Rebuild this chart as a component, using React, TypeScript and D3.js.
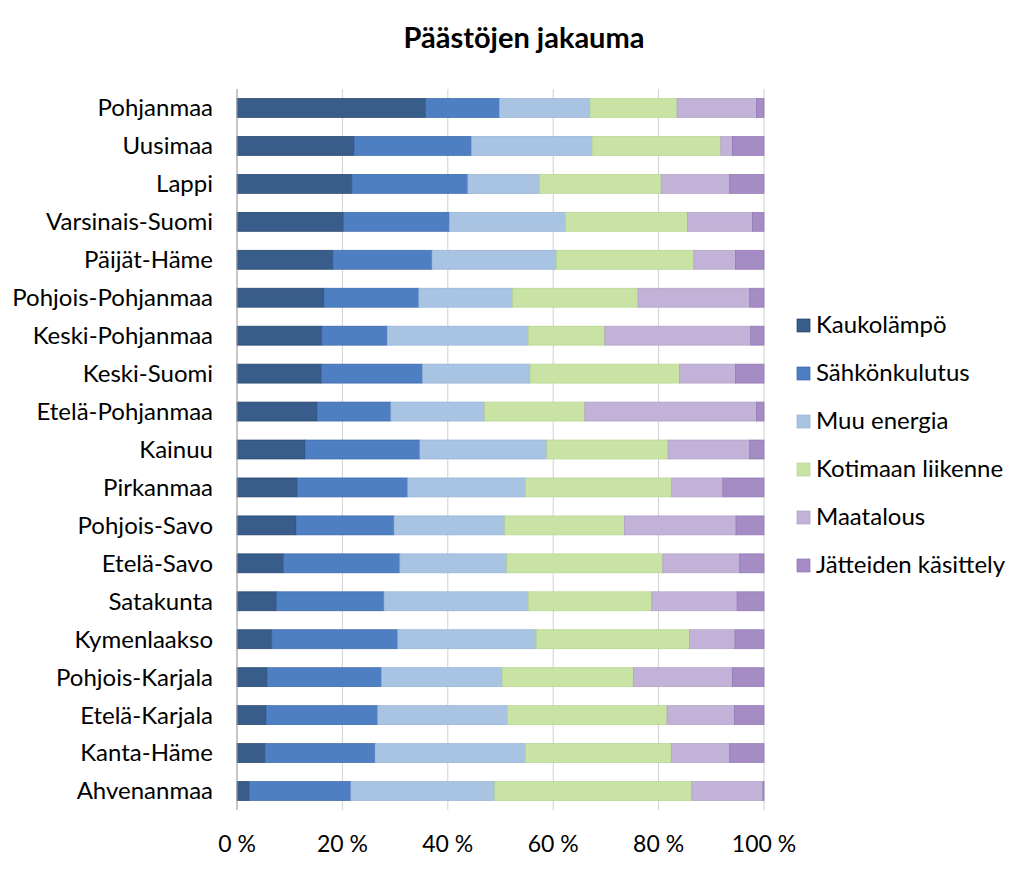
import React, { useEffect, useRef } from 'react';
import * as d3 from 'd3';

const regions = [
  'Pohjanmaa', 'Uusimaa', 'Lappi', 'Varsinais-Suomi', 'Päijät-Häme', 'Pohjois-Pohjanmaa',
  'Keski-Pohjanmaa', 'Keski-Suomi', 'Etelä-Pohjanmaa', 'Kainuu', 'Pirkanmaa', 'Pohjois-Savo',
  'Etelä-Savo', 'Satakunta', 'Kymenlaakso', 'Pohjois-Karjala', 'Etelä-Karjala', 'Kanta-Häme', 'Ahvenanmaa',
];

const seriesNames = ['Kaukolämpö', 'Sähkönkulutus', 'Muu energia', 'Kotimaan liikenne', 'Maatalous', 'Jätteiden käsittely'];

// shares (%) per region, in the order of `regions`
const kaukolampo = [35.8, 22.2, 21.8, 20.2, 18.2, 16.5, 16.1, 16.0, 15.2, 12.9, 11.4, 11.2, 8.8, 7.5, 6.6, 5.7, 5.5, 5.3, 2.3];
const sahkonkulutus = [14.0, 22.3, 22.0, 20.1, 18.8, 18.0, 12.4, 19.2, 14.0, 21.8, 21.0, 18.6, 22.1, 20.4, 23.9, 21.7, 21.2, 20.9, 19.3];
const muuEnergia = [17.2, 22.9, 13.6, 22.0, 23.6, 17.8, 26.8, 20.4, 17.8, 24.1, 22.3, 21.0, 20.3, 27.4, 26.3, 22.9, 24.6, 28.5, 27.3];
const liikenne = [16.5, 24.4, 23.1, 23.2, 26.1, 23.8, 14.5, 28.4, 19.0, 23.0, 27.8, 22.7, 29.6, 23.4, 29.1, 24.9, 30.3, 27.7, 37.4];
const maatalous = [15.1, 2.2, 13.0, 12.3, 7.9, 21.2, 27.7, 10.6, 32.6, 15.5, 9.7, 21.2, 14.6, 16.2, 8.6, 18.8, 12.8, 11.1, 13.5];
const jatteet = [1.4, 6.0, 6.5, 2.2, 5.4, 2.7, 2.5, 5.4, 1.4, 2.7, 7.8, 5.3, 4.6, 5.1, 5.5, 6.0, 5.6, 6.5, 0.2];

const xTicks = [0, 20, 40, 60, 80, 100];

const colors = ['#385d8a', '#4f7fc3', '#a9c4e2', '#c9e3a5', '#c3b2d8', '#a68cc5'];
const strokes = ['#23416b', '#3a66a8', '#93b1d6', '#b5d48f', '#b09fc8', '#8f76b3'];

function App() {
  const svgRef = useRef<SVGSVGElement>(null);
  const width = 1023;
  const height = 877;

  useEffect(() => {
    if (!svgRef.current) return;
    const svg = d3.select(svgRef.current);
    svg.selectAll('*').remove();

    const font = 'Lato, "Open Sans", sans-serif';
    const margin = { top: 89, left: 237, right: 259, bottom: 67 };
    const innerW = width - margin.left - margin.right;
    const innerH = height - margin.top - margin.bottom;

    const series = [kaukolampo, sahkonkulutus, muuEnergia, liikenne, maatalous, jatteet];
    const rows = regions.map((r, i) => {
      const row: any = { region: r };
      seriesNames.forEach((s, j) => { row[s] = series[j][i]; });
      return row;
    });
    const stacked = d3.stack<any>().keys(seriesNames).offset(d3.stackOffsetExpand)(rows);

    const x = d3.scaleLinear().domain([0, 1]).range([0, innerW]);
    const y = d3.scaleBand().domain(regions).range([0, innerH]).padding(0.5).paddingOuter(0.25);

    svg.append('rect').attr('width', width).attr('height', height).attr('fill', '#fff');

    const g = svg.append('g').attr('transform', `translate(${margin.left},${margin.top})`);

    // gridlines
    g.selectAll('.grid')
      .data(xTicks)
      .enter().append('line')
      .attr('x1', d => x(d / 100)).attr('x2', d => x(d / 100))
      .attr('y1', 0).attr('y2', innerH)
      .attr('stroke', '#d0d0d0').attr('stroke-width', 1);

    // bars
    stacked.forEach((layer, li) => {
      g.selectAll(`.bar${li}`)
        .data(layer)
        .enter().append('rect')
        .attr('x', d => x(d[0]))
        .attr('y', (d: any) => y(d.data.region) || 0)
        .attr('width', d => Math.max(0, x(d[1]) - x(d[0])))
        .attr('height', y.bandwidth())
        .attr('fill', colors[li])
        .attr('stroke', strokes[li])
        .attr('stroke-width', 0.7);
    });

    // y axis line
    g.append('line')
      .attr('x1', 0).attr('x2', 0).attr('y1', 0).attr('y2', innerH)
      .attr('stroke', '#a6a6a6').attr('stroke-width', 1);

    // category labels
    g.selectAll('.cat')
      .data(regions)
      .enter().append('text')
      .attr('x', -24)
      .attr('y', d => (y(d) || 0) + y.bandwidth() / 2)
      .attr('dy', '0.35em')
      .attr('text-anchor', 'end')
      .style('font-family', font)
      .style('font-size', '24px')
      .style('fill', '#000')
      .text(d => d);

    // x tick labels
    g.selectAll('.xt')
      .data(xTicks)
      .enter().append('text')
      .attr('x', d => x(d / 100))
      .attr('y', innerH + 42)
      .attr('text-anchor', 'middle')
      .style('font-family', font)
      .style('font-size', '23px')
      .style('fill', '#000')
      .text(d => `${d} %`);

    // title
    svg.append('text')
      .attr('x', 524)
      .attr('y', 48)
      .attr('text-anchor', 'middle')
      .style('font-family', font)
      .style('font-size', '29px')
      .style('font-weight', 'bold')
      .style('fill', '#000')
      .text('Päästöjen jakauma');

    // legend
    const legend = svg.append('g').attr('transform', 'translate(797,325)');
    seriesNames.forEach((s, i) => {
      const lg = legend.append('g').attr('transform', `translate(0,${i * 48})`);
      lg.append('rect')
        .attr('x', 0).attr('y', -6).attr('width', 13).attr('height', 13)
        .attr('fill', colors[i]).attr('stroke', strokes[i]).attr('stroke-width', 0.7);
      lg.append('text')
        .attr('x', 19).attr('y', 0).attr('dy', '0.35em')
        .style('font-family', font)
        .style('font-size', '24px')
        .style('fill', '#000')
        .text(s);
    });
  }, []);

  return (
    <svg ref={svgRef} width={width} height={height} style={{ display: 'block', position: 'absolute', left: 0, top: 0 }}></svg>
  );
}

export default App;
